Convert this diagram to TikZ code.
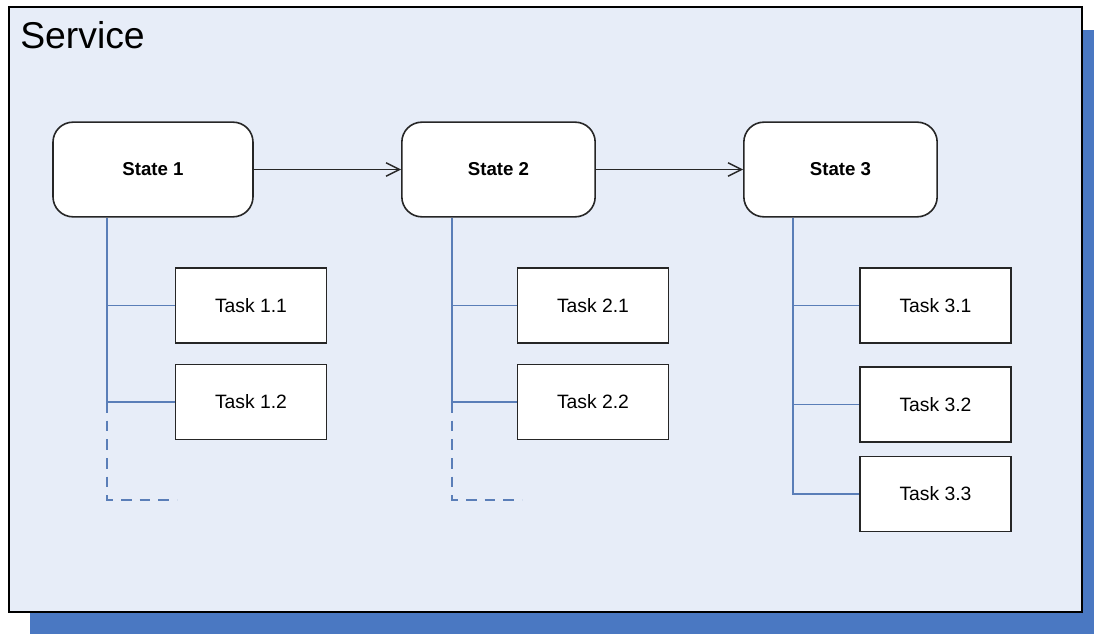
\documentclass[tikz,border=0pt]{standalone}
\usepackage{fontspec}
\setmainfont{Liberation Sans}
\usetikzlibrary{positioning,arrows.meta}
\definecolor{paneblue}{HTML}{E7EDF8}
\definecolor{shadowblue}{HTML}{4A78C2}
\definecolor{linkblue}{HTML}{5A7EB8}

\begin{document}
\begin{tikzpicture}[x=0.75pt,y=-0.75pt]
	\useasboundingbox (0,0) rectangle (1094,634);
	\tikzstyle{statebox}=[draw=black!85, line width=1.2pt, fill=white, rounded corners=15pt, minimum width=145pt, minimum height=71pt, font=\bfseries\fontsize{14}{16}\selectfont]
	\tikzstyle{taskbox}=[draw=black!85, line width=1.2pt, fill=white, minimum width=113pt, minimum height=56pt, font=\fontsize{14.5}{16}\selectfont]
	\tikzstyle{branch}=[draw=linkblue, line width=1.1pt]
	\tikzstyle{flow}=[draw=black!85, line width=1.1pt, -{Straight Barb[length=10pt,width=10pt]}]
	% frame with its shadow
	\fill[shadowblue] (30,30) rectangle (1094,634);
	\draw[fill=paneblue, line width=1.4pt] (9,7) rectangle (1082,612);
	\draw (20,49) node (title) [anchor=base west, inner sep=0pt, font=\fontsize{28}{32}\selectfont] {Service};
	% states
	\draw (153,169.5) node (s1) [statebox, minimum width=150pt] {State 1};
	\draw (498.5,169.5) node (s2) [statebox] {State 2};
	\draw (840.5,169.5) node (s3) [statebox] {State 3};
	\draw [flow] (s1) to (s2);
	\draw [flow] (s2) to (s3);
	% tasks
	\draw (251,305.5) node (t11) [taskbox] {Task 1.1};
	\draw (251,402) node (t12) [taskbox] {Task 1.2};
	\draw (593,305.5) node (t21) [taskbox] {Task 2.1};
	\draw (593,402) node (t22) [taskbox] {Task 2.2};
	\draw (935.5,305.5) node (t31) [taskbox] {Task 3.1};
	\draw (935.5,404.5) node (t32) [taskbox] {Task 3.2};
	\draw (935.5,494) node (t33) [taskbox] {Task 3.3};
	% branch lines
	\coordinate (b1) at (107,217);
	\coordinate (b2) at (452,217);
	\coordinate (b3) at (793,217);
	\coordinate (e1) at (177,500);
	\coordinate (e2) at (522,500);
	\draw [branch] (s1.south -| b1) -- (b1 |- t12.west);
	\draw [branch] (b1 |- t11.west) -- (t11.west);
	\draw [branch] (b1 |- t12.west) -- (t12.west);
	\draw [branch, dash pattern=on 8pt off 6pt] (b1 |- t12.west) |- (e1);
	\draw [branch] (s2.south -| b2) -- (b2 |- t22.west);
	\draw [branch] (b2 |- t21.west) -- (t21.west);
	\draw [branch] (b2 |- t22.west) -- (t22.west);
	\draw [branch, dash pattern=on 8pt off 6pt] (b2 |- t22.west) |- (e2);
	\draw [branch] (s3.south -| b3) |- (t33.west);
	\draw [branch] (b3 |- t31.west) -- (t31.west);
	\draw [branch] (b3 |- t32.west) -- (t32.west);
\end{tikzpicture}
\end{document}
